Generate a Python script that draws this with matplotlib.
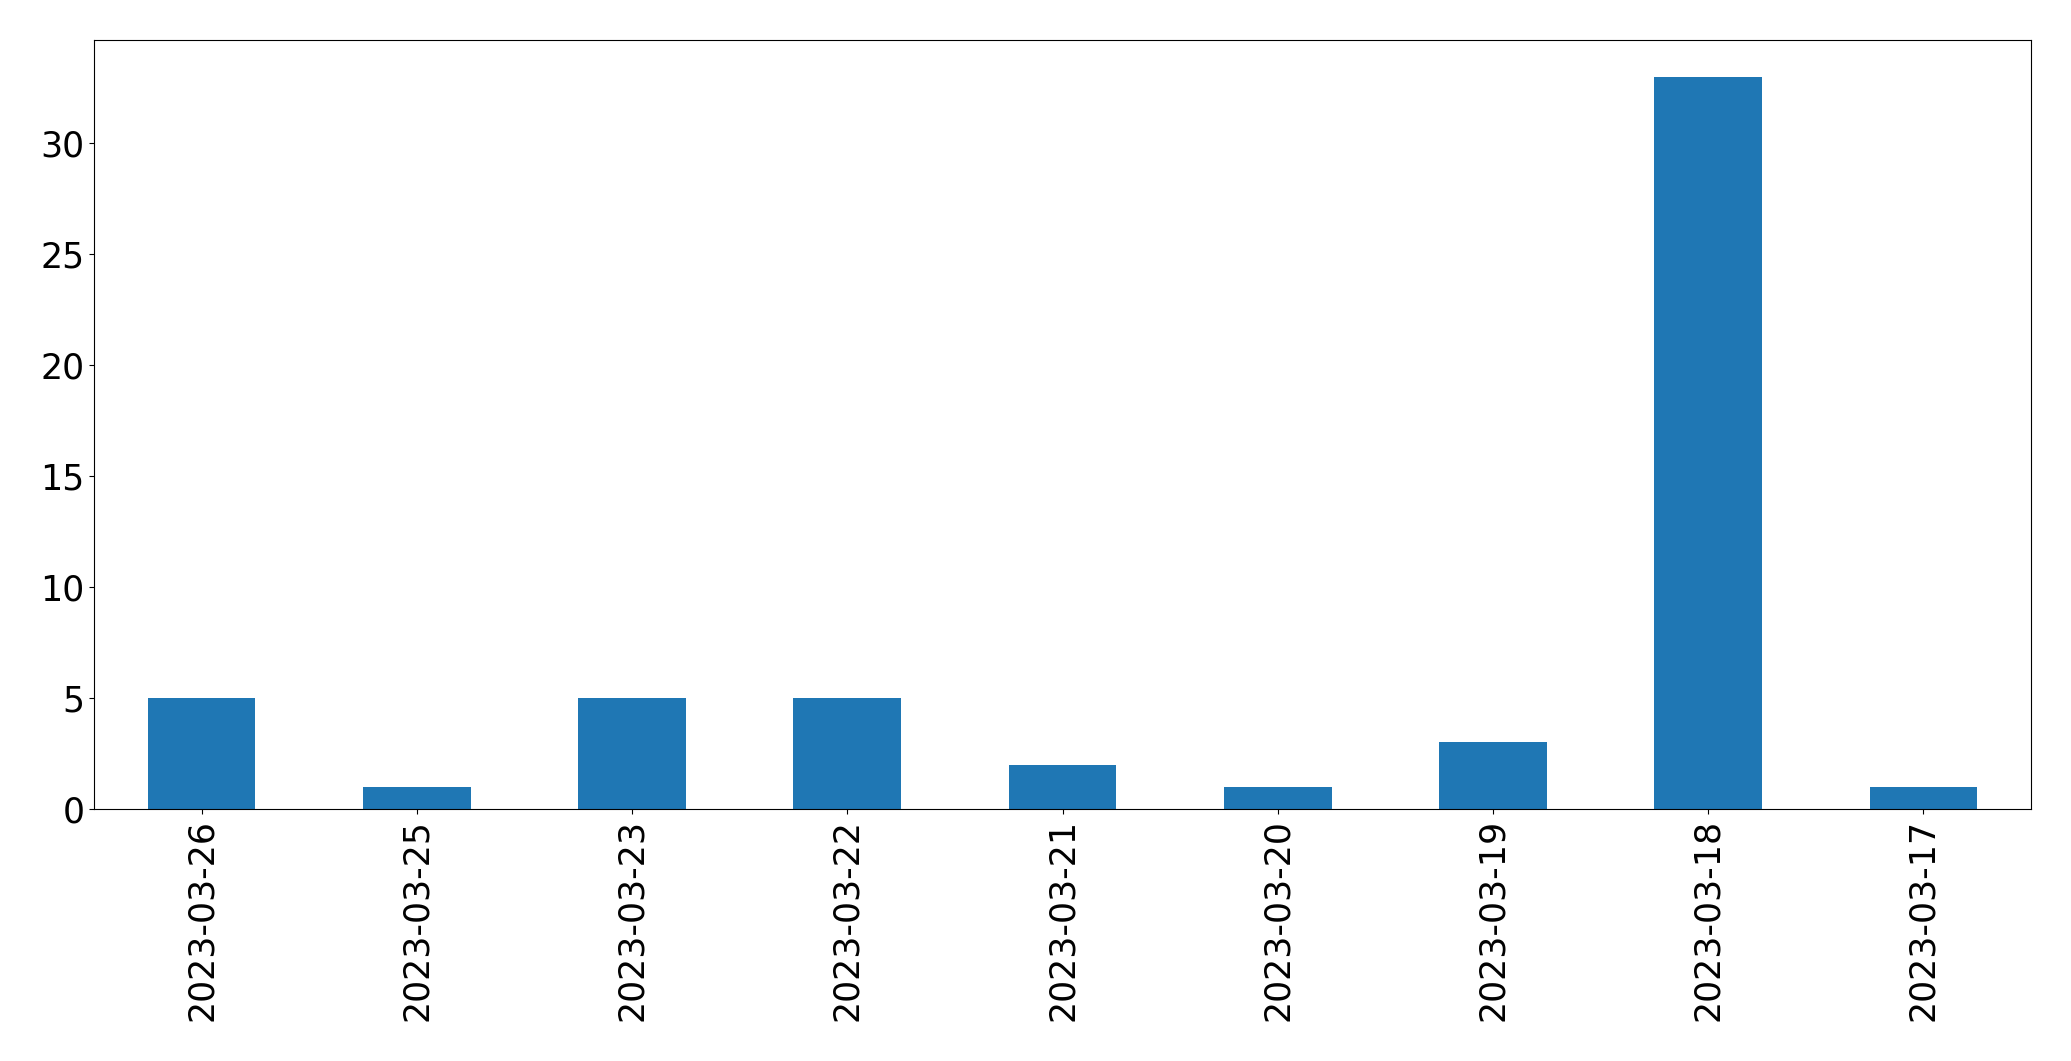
import matplotlib
matplotlib.use("Agg")
import matplotlib.pyplot as plt

dates = ["2023-03-26", "2023-03-25", "2023-03-23", "2023-03-22", "2023-03-21",
         "2023-03-20", "2023-03-19", "2023-03-18", "2023-03-17"]
counts = [5, 1, 5, 5, 2, 1, 3, 33, 1]

plt.rcParams["font.size"] = 25
fig = plt.figure(figsize=(20.71, 10.61), dpi=100)
ax = fig.add_axes([94 / 2071, 1 - 809 / 1061, (2031 - 94) / 2071, (809 - 40) / 1061])
x = range(len(dates))
ax.bar(x, counts, width=0.5, color="#1f77b4")
ax.set_xticks(list(x))
ax.set_xticklabels(dates, rotation=90)
ax.set_xlim(-0.5, len(dates) - 0.5)
fig.savefig("out.png", dpi=100)
